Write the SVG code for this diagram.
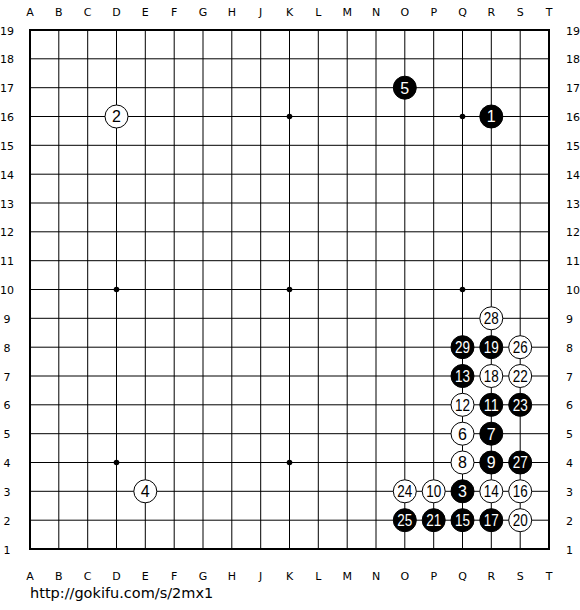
<svg xmlns="http://www.w3.org/2000/svg" width="580" height="610" viewBox="0 0 580 610">
<style>
.ln{stroke:#000;stroke-width:1;fill:none}
.bd{stroke:#000;stroke-width:2;fill:none}
.lb{font-family:"DejaVu Sans",sans-serif;font-size:11px;fill:#000}
.rl{font-family:"DejaVu Sans",sans-serif;font-size:11px;fill:#000}
.b{fill:#000;stroke:#000;stroke-width:1}
.w{fill:#fff;stroke:#000;stroke-width:1}
.nb{font-family:"Liberation Sans",Arial,sans-serif;font-size:16px;fill:#fff;text-anchor:middle}
.nw{font-family:"Liberation Sans",Arial,sans-serif;font-size:16px;fill:#000;text-anchor:middle}
.url{font-family:"DejaVu Sans",sans-serif;font-size:14.5px;fill:#000}
</style>
<rect width="580" height="610" fill="#fff"/>
<g id="grid">
<path class="ln" d="M58.8 30V549M87.7 30V549M116.5 30V549M145.3 30V549M174.2 30V549M203 30V549M231.8 30V549M260.7 30V549M289.5 30V549M318.3 30V549M347.2 30V549M376 30V549M404.8 30V549M433.7 30V549M462.5 30V549M491.3 30V549M520.2 30V549"/>
<path class="ln" d="M30 58.8H549M30 87.7H549M30 116.5H549M30 145.3H549M30 174.2H549M30 203H549M30 231.8H549M30 260.7H549M30 289.5H549M30 318.3H549M30 347.2H549M30 376H549M30 404.8H549M30 433.7H549M30 462.5H549M30 491.3H549M30 520.2H549"/>
<rect class="bd" x="30" y="30" width="519" height="519"/>
<g fill="#000">
<circle cx="116.5" cy="116.5" r="2.8"/><circle cx="289.5" cy="116.5" r="2.8"/><circle cx="462.5" cy="116.5" r="2.8"/>
<circle cx="116.5" cy="289.5" r="2.8"/><circle cx="289.5" cy="289.5" r="2.8"/><circle cx="462.5" cy="289.5" r="2.8"/>
<circle cx="116.5" cy="462.5" r="2.8"/><circle cx="289.5" cy="462.5" r="2.8"/>
</g>
</g>
<g id="col-labels" class="lb" text-anchor="middle">
<text x="30" y="16">A</text><text x="58.8" y="16">B</text><text x="87.7" y="16">C</text><text x="116.5" y="16">D</text><text x="145.3" y="16">E</text><text x="174.2" y="16">F</text><text x="203" y="16">G</text><text x="231.8" y="16">H</text><text x="260.7" y="16">J</text><text x="289.5" y="16">K</text><text x="318.3" y="16">L</text><text x="347.2" y="16">M</text><text x="376" y="16">N</text><text x="404.8" y="16">O</text><text x="433.7" y="16">P</text><text x="462.5" y="16">Q</text><text x="491.3" y="16">R</text><text x="520.2" y="16">S</text><text x="549" y="16">T</text>
<text x="30" y="580">A</text><text x="58.8" y="580">B</text><text x="87.7" y="580">C</text><text x="116.5" y="580">D</text><text x="145.3" y="580">E</text><text x="174.2" y="580">F</text><text x="203" y="580">G</text><text x="231.8" y="580">H</text><text x="260.7" y="580">J</text><text x="289.5" y="580">K</text><text x="318.3" y="580">L</text><text x="347.2" y="580">M</text><text x="376" y="580">N</text><text x="404.8" y="580">O</text><text x="433.7" y="580">P</text><text x="462.5" y="580">Q</text><text x="491.3" y="580">R</text><text x="520.2" y="580">S</text><text x="549" y="580">T</text>
</g>
<g id="row-labels-left" class="rl" text-anchor="middle">
<text x="7" y="34.5">19</text><text x="7" y="63.3">18</text><text x="7" y="92.2">17</text><text x="7" y="121">16</text><text x="7" y="149.8">15</text><text x="7" y="178.7">14</text><text x="7" y="207.5">13</text><text x="7" y="236.3">12</text><text x="7" y="265.2">11</text><text x="7" y="294">10</text><text x="7" y="322.8">9</text><text x="7" y="351.7">8</text><text x="7" y="380.5">7</text><text x="7" y="409.3">6</text><text x="7" y="438.2">5</text><text x="7" y="467">4</text><text x="7" y="495.8">3</text><text x="7" y="524.7">2</text><text x="7" y="553.5">1</text>
</g>
<g id="row-labels-right" class="rl">
<text x="566" y="34.5">19</text><text x="566" y="63.3">18</text><text x="566" y="92.2">17</text><text x="566" y="121">16</text><text x="566" y="149.8">15</text><text x="566" y="178.7">14</text><text x="566" y="207.5">13</text><text x="566" y="236.3">12</text><text x="566" y="265.2">11</text><text x="566" y="294">10</text><text x="566" y="322.8">9</text><text x="566" y="351.7">8</text><text x="566" y="380.5">7</text><text x="566" y="409.3">6</text><text x="566" y="438.2">5</text><text x="566" y="467">4</text><text x="566" y="495.8">3</text><text x="566" y="524.7">2</text><text x="566" y="553.5">1</text>
</g>
<g id="stone-1"><circle class="b" cx="491.3" cy="116.5" r="11.5"/><text class="nb" x="491.3" y="122.3">1</text></g>
<g id="stone-2"><circle class="w" cx="116.5" cy="116.5" r="11.5"/><text class="nw" x="116.5" y="122.3">2</text></g>
<g id="stone-3"><circle class="b" cx="462.5" cy="491.3" r="11.5"/><text class="nb" x="462.5" y="497.1">3</text></g>
<g id="stone-4"><circle class="w" cx="145.3" cy="491.3" r="11.5"/><text class="nw" x="145.3" y="497.1">4</text></g>
<g id="stone-5"><circle class="b" cx="404.8" cy="87.7" r="11.5"/><text class="nb" x="404.8" y="93.5">5</text></g>
<g id="stone-6"><circle class="w" cx="462.5" cy="433.7" r="11.5"/><text class="nw" x="462.5" y="439.5">6</text></g>
<g id="stone-7"><circle class="b" cx="491.3" cy="433.7" r="11.5"/><text class="nb" x="491.3" y="439.5">7</text></g>
<g id="stone-8"><circle class="w" cx="462.5" cy="462.5" r="11.5"/><text class="nw" x="462.5" y="468.3">8</text></g>
<g id="stone-9"><circle class="b" cx="491.3" cy="462.5" r="11.5"/><text class="nb" x="491.3" y="468.3">9</text></g>
<g id="stone-10"><circle class="w" cx="433.7" cy="491.3" r="11.5"/><text class="nw" x="433.7" y="497.1" textLength="15" lengthAdjust="spacingAndGlyphs">10</text></g>
<g id="stone-11"><circle class="b" cx="491.3" cy="404.8" r="11.5"/><text class="nb" x="491.3" y="410.6" textLength="15" lengthAdjust="spacingAndGlyphs">11</text></g>
<g id="stone-12"><circle class="w" cx="462.5" cy="404.8" r="11.5"/><text class="nw" x="462.5" y="410.6" textLength="15" lengthAdjust="spacingAndGlyphs">12</text></g>
<g id="stone-13"><circle class="b" cx="462.5" cy="376" r="11.5"/><text class="nb" x="462.5" y="381.8" textLength="15" lengthAdjust="spacingAndGlyphs">13</text></g>
<g id="stone-14"><circle class="w" cx="491.3" cy="491.3" r="11.5"/><text class="nw" x="491.3" y="497.1" textLength="15" lengthAdjust="spacingAndGlyphs">14</text></g>
<g id="stone-15"><circle class="b" cx="462.5" cy="520.2" r="11.5"/><text class="nb" x="462.5" y="526" textLength="15" lengthAdjust="spacingAndGlyphs">15</text></g>
<g id="stone-16"><circle class="w" cx="520.2" cy="491.3" r="11.5"/><text class="nw" x="520.2" y="497.1" textLength="15" lengthAdjust="spacingAndGlyphs">16</text></g>
<g id="stone-17"><circle class="b" cx="491.3" cy="520.2" r="11.5"/><text class="nb" x="491.3" y="526" textLength="15" lengthAdjust="spacingAndGlyphs">17</text></g>
<g id="stone-18"><circle class="w" cx="491.3" cy="376" r="11.5"/><text class="nw" x="491.3" y="381.8" textLength="15" lengthAdjust="spacingAndGlyphs">18</text></g>
<g id="stone-19"><circle class="b" cx="491.3" cy="347.2" r="11.5"/><text class="nb" x="491.3" y="353" textLength="15" lengthAdjust="spacingAndGlyphs">19</text></g>
<g id="stone-20"><circle class="w" cx="520.2" cy="520.2" r="11.5"/><text class="nw" x="520.2" y="526" textLength="15" lengthAdjust="spacingAndGlyphs">20</text></g>
<g id="stone-21"><circle class="b" cx="433.7" cy="520.2" r="11.5"/><text class="nb" x="433.7" y="526" textLength="15" lengthAdjust="spacingAndGlyphs">21</text></g>
<g id="stone-22"><circle class="w" cx="520.2" cy="376" r="11.5"/><text class="nw" x="520.2" y="381.8" textLength="15" lengthAdjust="spacingAndGlyphs">22</text></g>
<g id="stone-23"><circle class="b" cx="520.2" cy="404.8" r="11.5"/><text class="nb" x="520.2" y="410.6" textLength="15" lengthAdjust="spacingAndGlyphs">23</text></g>
<g id="stone-24"><circle class="w" cx="404.8" cy="491.3" r="11.5"/><text class="nw" x="404.8" y="497.1" textLength="15" lengthAdjust="spacingAndGlyphs">24</text></g>
<g id="stone-25"><circle class="b" cx="404.8" cy="520.2" r="11.5"/><text class="nb" x="404.8" y="526" textLength="15" lengthAdjust="spacingAndGlyphs">25</text></g>
<g id="stone-26"><circle class="w" cx="520.2" cy="347.2" r="11.5"/><text class="nw" x="520.2" y="353" textLength="15" lengthAdjust="spacingAndGlyphs">26</text></g>
<g id="stone-27"><circle class="b" cx="520.2" cy="462.5" r="11.5"/><text class="nb" x="520.2" y="468.3" textLength="15" lengthAdjust="spacingAndGlyphs">27</text></g>
<g id="stone-28"><circle class="w" cx="491.3" cy="318.3" r="11.5"/><text class="nw" x="491.3" y="324.1" textLength="15" lengthAdjust="spacingAndGlyphs">28</text></g>
<g id="stone-29"><circle class="b" cx="462.5" cy="347.2" r="11.5"/><text class="nb" x="462.5" y="353" textLength="15" lengthAdjust="spacingAndGlyphs">29</text></g>
<text class="url" x="30" y="598">http://gokifu.com/s/2mx1</text>
</svg>
